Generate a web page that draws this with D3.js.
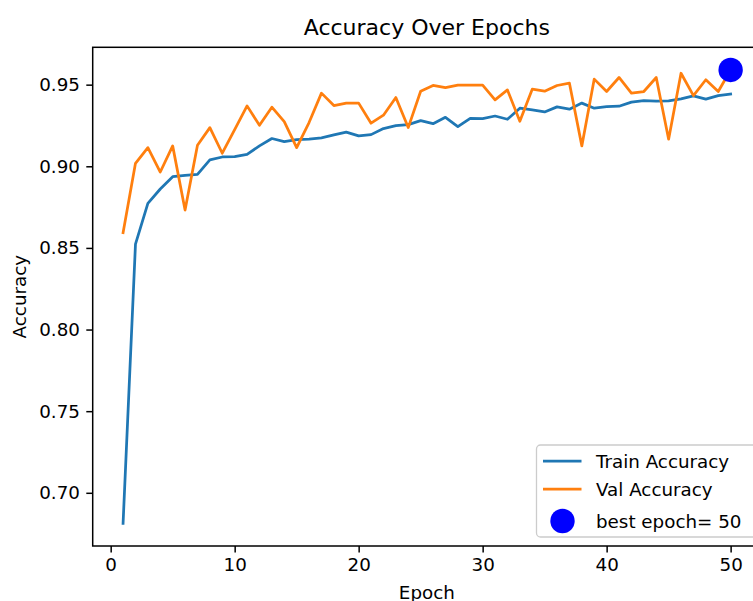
<!DOCTYPE html>
<html>
<head>
<meta charset="utf-8">
<script src="https://cdn.jsdelivr.net/npm/d3@7"></script>
<style>
  body { margin: 0; background: #fff; }
  svg { display: block; font-family: "DejaVu Sans", sans-serif; }
</style>
</head>
<body>
<svg id="chart" width="753" height="601"></svg>
<script>
// epochs 1..50
const epochs = d3.range(1, 51);

const trainAcc = [
  0.6813, 0.8523, 0.8773, 0.8861, 0.8936, 0.8945, 0.8951, 0.9039, 0.9057, 0.9059,
  0.9073, 0.9125, 0.9170, 0.9151, 0.9163, 0.9166, 0.9174, 0.9192, 0.9209, 0.9186,
  0.9194, 0.9231, 0.9249, 0.9255, 0.9280, 0.9261, 0.9300, 0.9243, 0.9294, 0.9292,
  0.9308, 0.9288, 0.9356, 0.9345, 0.9333, 0.9364, 0.9350, 0.9387, 0.9356, 0.9366,
  0.9368, 0.9393, 0.9402, 0.9399, 0.9401, 0.9413, 0.9431, 0.9411, 0.9433, 0.9443
];

const valAcc = [
  0.8593, 0.9018, 0.9114, 0.8965, 0.9125, 0.8732, 0.9129, 0.9237, 0.9080, 0.9225,
  0.9370, 0.9251, 0.9362, 0.9274, 0.9114, 0.9268, 0.9448, 0.9372, 0.9387, 0.9387,
  0.9264, 0.9313, 0.9421, 0.9237, 0.9460, 0.9495, 0.9482, 0.9497, 0.9497, 0.9497,
  0.9407, 0.9468, 0.9276, 0.9472, 0.9460, 0.9495, 0.9509, 0.9125, 0.9534, 0.9458,
  0.9544, 0.9448, 0.9458, 0.9544, 0.9166, 0.9570, 0.9433, 0.9530, 0.9458, 0.9590
];

const bestEpoch = 50;
const bestVal = 0.9590;

const xTicks = [0, 10, 20, 30, 40, 50];
const yTicks = [0.70, 0.75, 0.80, 0.85, 0.90, 0.95];

const legendLabels = ["Train Accuracy", "Val Accuracy", "best epoch= " + bestEpoch];

// axes box (right spine falls just outside the window, as in the original)
const axLeft = 92.7, axRight = 761, axTop = 47.3, axBottom = 546;
const fs = 18.3;

const svg = d3.select("#chart");

// matplotlib-style 5% margins
const xMin = d3.min(epochs), xMax = d3.max(epochs);
const xPad = (xMax - xMin) * 0.05;
const yMin = d3.min(trainAcc.concat(valAcc, [bestVal]));
const yMax = d3.max(trainAcc.concat(valAcc, [bestVal]));
const yPad = (yMax - yMin) * 0.05;

const x = d3.scaleLinear().domain([xMin - xPad, xMax + xPad]).range([axLeft, axRight]);
const y = d3.scaleLinear().domain([yMin - yPad, yMax + yPad]).range([axBottom, axTop]);

const line = d3.line().x((d, i) => x(epochs[i])).y(d => y(d));

svg.append("path")
  .datum(trainAcc)
  .attr("d", line)
  .attr("fill", "none")
  .attr("stroke", "#1f77b4")
  .attr("stroke-width", 2.75)
  .attr("stroke-linejoin", "round")
  .attr("stroke-linecap", "square");

svg.append("path")
  .datum(valAcc)
  .attr("d", line)
  .attr("fill", "none")
  .attr("stroke", "#ff7f0e")
  .attr("stroke-width", 2.75)
  .attr("stroke-linejoin", "round")
  .attr("stroke-linecap", "square");

// best epoch marker
svg.append("circle")
  .attr("cx", x(bestEpoch))
  .attr("cy", y(bestVal))
  .attr("r", 12.2)
  .attr("fill", "#0000ff");

// spines
svg.append("rect")
  .attr("x", axLeft).attr("y", axTop)
  .attr("width", axRight - axLeft).attr("height", axBottom - axTop)
  .attr("fill", "none")
  .attr("stroke", "#000")
  .attr("stroke-width", 1.5);

// x axis
const xAxis = d3.axisBottom(x).tickValues(xTicks).tickSize(6.4).tickPadding(5.5)
  .tickFormat(d3.format("d"));
const gx = svg.append("g").attr("transform", `translate(0,${axBottom})`).call(xAxis);
gx.select(".domain").remove();
gx.selectAll(".tick line").attr("stroke", "#000").attr("stroke-width", 1.5);
gx.selectAll(".tick text").attr("font-size", fs).attr("font-family", "DejaVu Sans").attr("fill", "#000");

// y axis
const yAxis = d3.axisLeft(y).tickValues(yTicks).tickSize(6.4).tickPadding(6.4)
  .tickFormat(d3.format(".2f"));
const gy = svg.append("g").attr("transform", `translate(${axLeft},0)`).call(yAxis);
gy.select(".domain").remove();
gy.selectAll(".tick line").attr("stroke", "#000").attr("stroke-width", 1.5);
gy.selectAll(".tick text").attr("font-size", fs).attr("font-family", "DejaVu Sans").attr("fill", "#000");

// title and labels
svg.append("text")
  .attr("x", (axLeft + axRight) / 2).attr("y", 35.3)
  .attr("text-anchor", "middle")
  .attr("font-size", 22)
  .attr("fill", "#000")
  .text("Accuracy Over Epochs");

svg.append("text")
  .attr("x", (axLeft + axRight) / 2).attr("y", 599)
  .attr("text-anchor", "middle")
  .attr("font-size", fs)
  .attr("fill", "#000")
  .text("Epoch");

svg.append("text")
  .attr("transform", `translate(25.5,${(axTop + axBottom) / 2}) rotate(-90)`)
  .attr("text-anchor", "middle")
  .attr("font-size", fs)
  .attr("fill", "#000")
  .text("Accuracy");

// legend
const lg = svg.append("g");
lg.append("rect")
  .attr("x", 536.5).attr("y", 445)
  .attr("width", 230).attr("height", 92)
  .attr("rx", 4)
  .attr("fill", "#fff").attr("fill-opacity", 0.8)
  .attr("stroke", "#cccccc").attr("stroke-width", 1.3);

const legendRows = [461, 489, 521];
const legendColors = ["#1f77b4", "#ff7f0e", "#0000ff"];

legendLabels.forEach((lab, i) => {
  if (i < 2) {
    lg.append("line")
      .attr("x1", 543).attr("x2", 581.5)
      .attr("y1", legendRows[i]).attr("y2", legendRows[i])
      .attr("stroke", legendColors[i]).attr("stroke-width", 2.75);
  } else {
    lg.append("circle")
      .attr("cx", 562.5).attr("cy", legendRows[i])
      .attr("r", 12.2).attr("fill", legendColors[i]);
  }
  lg.append("text")
    .attr("x", 596).attr("y", legendRows[i] + 6.6)
    .attr("font-size", fs)
    .attr("fill", "#000")
    .text(lab);
});
</script>
</body>
</html>
